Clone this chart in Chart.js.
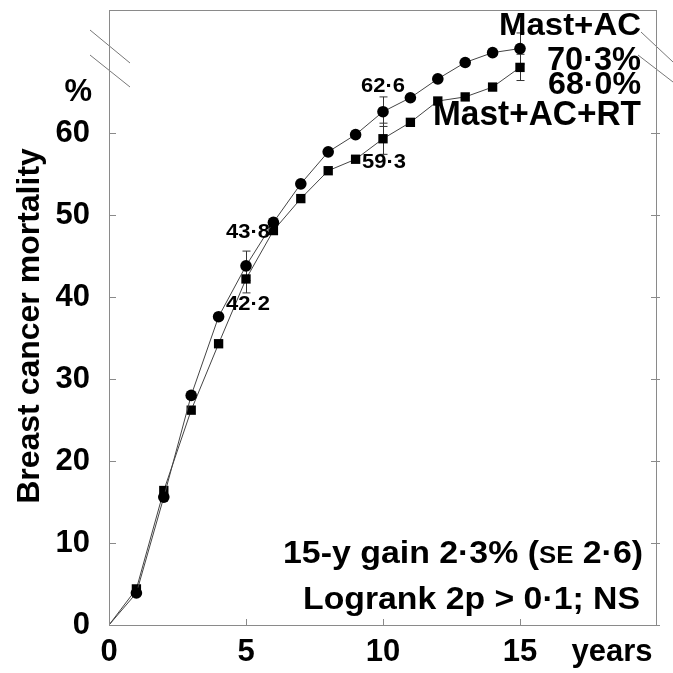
<!DOCTYPE html>
<html>
<head>
<meta charset="utf-8">
<script src="https://cdn.jsdelivr.net/npm/chart.js@4/dist/chart.umd.min.js"></script>
<style>
  html, body { margin: 0; padding: 0; background: #fff; }
  #wrap { width: 673px; height: 673px; }
</style>
</head>
<body>
<div id="wrap"><canvas id="mortChart" width="673" height="673"></canvas></div>
<script>
/* ---------- data ---------- */
const years = [0, 1, 2, 3, 4, 5, 6, 7, 8, 9, 10, 11, 12, 13, 14, 15];
const mastAC = [0, 3.9, 15.6, 28.0, 37.6, 43.8, 49.1, 53.8, 57.7, 59.8, 62.6, 64.3, 66.6, 68.6, 69.8, 70.3];
const mastACRT = [0, 4.4, 16.4, 26.2, 34.3, 42.2, 48.1, 52.0, 55.4, 56.8, 59.3, 61.3, 63.9, 64.4, 65.6, 68.0];

const errYears = [5, 10, 15];
const seAC = [1.8, 1.8, 1.9];
const seACRT = [1.7, 1.9, 1.6];

const yTicks = [0, 10, 20, 30, 40, 50, 60];
const xTicks = [0, 5, 10, 15];

const FONT = '"Liberation Sans", Arial, sans-serif';
const AXIS_GREY = "#8a8a8a";
const CAP = 0.716; // cap height / em for Arial-metric fonts

function pts(vals) {
  return years.map((x, i) => ({ x: x, y: vals[i] }));
}

// draw text (optionally in pieces) so it fills a box: cap height and width
function fitText(ctx, parts, box) {
  const size = box.cap / CAP;
  let natural = 0;
  parts.forEach(p => {
    ctx.font = "bold " + (size * (p.k || 1)) + "px " + FONT;
    natural += ctx.measureText(p.t).width;
  });
  const width = box.right - box.left;
  const sx = width / natural;
  ctx.save();
  ctx.translate(box.left, box.mid + box.cap / 2);
  ctx.scale(sx, 1);
  ctx.textAlign = "left";
  ctx.textBaseline = "alphabetic";
  let cx = 0;
  parts.forEach(p => {
    ctx.font = "bold " + (size * (p.k || 1)) + "px " + FONT;
    ctx.fillText(p.t, cx, 0);
    cx += ctx.measureText(p.t).width;
  });
  ctx.restore();
}

/* ---------- extras: break marks, inner ticks, error bars, texts ---------- */
const extrasPlugin = {
  id: "extras",
  beforeDatasetsDraw(chart) {
    const { ctx, chartArea: a, scales: { x, y } } = chart;
    ctx.save();

    // inner ticks on all sides
    ctx.strokeStyle = AXIS_GREY;
    ctx.lineWidth = 1;
    yTicks.forEach(v => {
      const py = Math.round(y.getPixelForValue(v)) + 0.5;
      ctx.beginPath();
      ctx.moveTo(a.left, py); ctx.lineTo(a.left + 7, py);
      ctx.moveTo(a.right - 6, py); ctx.lineTo(a.right + 3, py);
      ctx.stroke();
    });
    xTicks.forEach(v => {
      const px = Math.round(x.getPixelForValue(v)) + 0.5;
      ctx.beginPath();
      ctx.moveTo(px, a.bottom); ctx.lineTo(px, a.bottom - 6);
      ctx.stroke();
    });

    // axis break marks
    ctx.strokeStyle = "#777";
    ctx.beginPath();
    ctx.moveTo(90, 30); ctx.lineTo(130, 63);
    ctx.moveTo(90, 55); ctx.lineTo(130, 87);
    ctx.moveTo(641, 32); ctx.lineTo(673, 62);
    ctx.moveTo(638, 55); ctx.lineTo(673, 82);
    ctx.stroke();

    // error bars
    ctx.strokeStyle = "#333";
    const bar = (xv, yv, se) => {
      const px = Math.round(x.getPixelForValue(xv)) + 0.5;
      const top = y.getPixelForValue(yv + se);
      const bot = y.getPixelForValue(yv - se);
      ctx.beginPath();
      ctx.moveTo(px, top); ctx.lineTo(px, bot);
      ctx.moveTo(px - 4, top); ctx.lineTo(px + 4, top);
      ctx.moveTo(px - 4, bot); ctx.lineTo(px + 4, bot);
      ctx.stroke();
    };
    errYears.forEach((yr, i) => {
      bar(yr, mastAC[years.indexOf(yr)], seAC[i]);
      bar(yr, mastACRT[years.indexOf(yr)], seACRT[i]);
    });
    ctx.restore();
  },
  afterDraw(chart) {
    const { ctx, scales: { x, y } } = chart;
    ctx.save();
    ctx.fillStyle = "#000";
    ctx.textBaseline = "middle";

    // y title
    ctx.save();
    ctx.translate(30, 326);
    ctx.rotate(-Math.PI / 2);
    ctx.font = "bold 32px " + FONT;
    ctx.textAlign = "center";
    ctx.fillText("Breast cancer mortality", 0, 0);
    ctx.restore();

    ctx.font = "bold 31px " + FONT;
    ctx.textAlign = "right";
    ctx.fillText("%", 92, 92);

    ctx.textAlign = "center";
    ctx.fillText("years", 612, 652);

    // series labels
    fitText(ctx, [{ t: "Mast+AC" }], { left: 499, right: 641, mid: 24, cap: 22 });
    fitText(ctx, [{ t: "70·3%" }], { left: 547, right: 641, mid: 58, cap: 24 });
    fitText(ctx, [{ t: "68·0%" }], { left: 548, right: 641, mid: 82, cap: 23 });
    fitText(ctx, [{ t: "Mast+AC+RT" }], { left: 433, right: 641, mid: 112, cap: 25 });

    // value labels, placed from the data points
    const px = v => x.getPixelForValue(v);
    const py = v => y.getPixelForValue(v);
    const lab = (t, cxp, mid) => fitText(ctx, [{ t: t }], { left: cxp - 22, right: cxp + 22, mid: mid, cap: 15 });
    lab("62·6", px(10), py(mastAC[10]) - 27);
    lab("59·3", px(10) + 1, py(mastACRT[10]) + 22);
    lab("43·8", px(5) + 2, py(mastAC[5]) - 35);
    lab("42·2", px(5) + 2, py(mastACRT[5]) + 24);

    // stats text, with small-caps SE
    fitText(ctx, [{ t: "15-y gain 2·3% (" }, { t: "SE", k: 0.76 }, { t: " 2·6)" }],
      { left: 283, right: 643, mid: 552, cap: 22 });
    fitText(ctx, [{ t: "Logrank 2p > 0·1; NS" }], { left: 303, right: 640, mid: 598, cap: 22 });
    ctx.restore();
  }
};

/* ---------- chart ---------- */
new Chart(document.getElementById("mortChart"), {
  type: "line",
  data: {
    datasets: [
      {
        label: "Mast+AC",
        data: pts(mastAC),
        borderColor: "#444",
        borderWidth: 1,
        pointStyle: "circle",
        pointRadius: years.map(v => v === 0 ? 0 : 5.8),
        pointBackgroundColor: "#000",
        pointBorderColor: "#000",
        pointBorderWidth: 0
      },
      {
        label: "Mast+AC+RT",
        data: pts(mastACRT),
        borderColor: "#444",
        borderWidth: 1,
        pointStyle: "rect",
        pointRadius: years.map(v => v === 0 ? 0 : 6.6),
        pointBackgroundColor: "#000",
        pointBorderColor: "#000",
        pointBorderWidth: 0
      }
    ]
  },
  options: {
    responsive: false,
    devicePixelRatio: 1,
    animation: false,
    layout: { padding: { top: 10, right: 16, left: 0, bottom: 0 } },
    plugins: { legend: { display: false }, tooltip: { enabled: false } },
    scales: {
      x: {
        type: "linear",
        min: 0,
        max: 20,
        afterFit: s => { s.height = 48; s.paddingLeft = 0; s.paddingRight = 0; },
        afterBuildTicks: s => { s.ticks = xTicks.map(v => ({ value: v })); },
        ticks: {
          color: "#000",
          padding: 9,
          maxRotation: 0,
          font: { family: FONT, size: 31, weight: "bold" }
        },
        grid: { display: false, drawTicks: false },
        border: { display: true, color: AXIS_GREY, width: 1 }
      },
      y: {
        min: 0,
        max: 75,
        afterFit: s => { s.width = 109; s.paddingTop = 0; s.paddingBottom = 0; },
        afterBuildTicks: s => { s.ticks = yTicks.map(v => ({ value: v })); },
        ticks: {
          color: "#000",
          padding: 19,
          font: { family: FONT, size: 31, weight: "bold" }
        },
        grid: { display: false, drawTicks: false },
        border: { display: true, color: AXIS_GREY, width: 1 }
      }
    }
  },
  plugins: [extrasPlugin, {
    id: "frame",
    afterDraw(chart) {
      const { ctx, chartArea: a } = chart;
      ctx.save();
      ctx.strokeStyle = AXIS_GREY;
      ctx.lineWidth = 1;
      ctx.strokeRect(a.left + 0.5, a.top + 0.5, a.right - a.left - 1, a.bottom - a.top);
      ctx.restore();
    }
  }]
});
</script>
</body>
</html>
